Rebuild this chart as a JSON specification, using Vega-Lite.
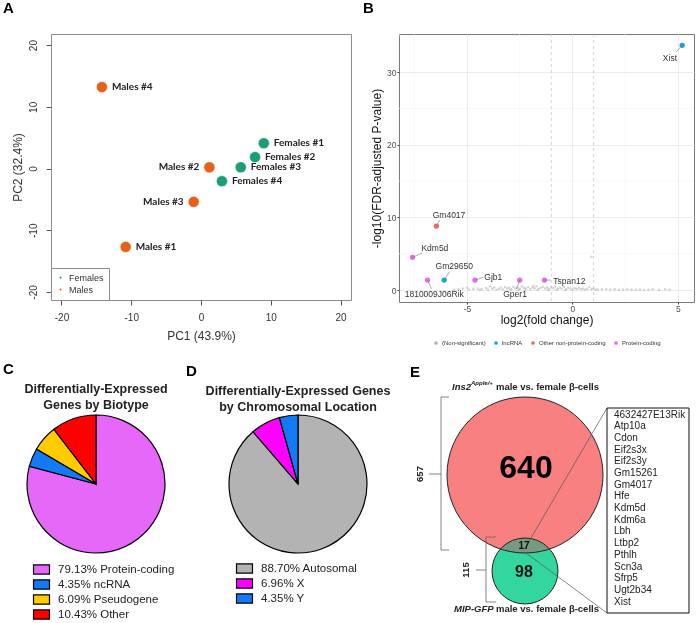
{
  "$schema": "https://vega.github.io/schema/vega-lite/v6.json",
  "padding": {"left": 2, "top": 0, "right": 0, "bottom": 0},
  "background": "white",
  "config": {
    "view": {"stroke": null},
    "font": "Liberation Sans",
    "title": {"font": "Liberation Sans", "fontSize": 15, "fontWeight": "bold", "anchor": "start", "frame": "group", "baseline": "alphabetic", "color": "#000"},
    "axis": {"labelFont": "Liberation Sans", "titleFont": "Liberation Sans"},
    "legend": {"labelFont": "Liberation Sans"}
  },
  "resolve": {"scale": {"color": "independent", "size": "independent"}, "legend": {"color": "independent", "size": "independent"}},
  "spacing": 15,
  "vconcat": [
    {
      "resolve": {"scale": {"color": "independent", "size": "independent"}, "legend": {"color": "independent", "size": "independent"}},
      "hconcat": [
        {
          "width": 300,
          "height": 266,
          "title": {"text": "A", "dx": -48, "offset": 18},
          "view": {"stroke": "#8c8c8c"},
          "data": {"values": [
            {"name": "Males #4", "group": "Males", "pc1": -14.2, "pc2": 13.2},
            {"name": "Males #2", "group": "Males", "pc1": 1.2, "pc2": 0.2},
            {"name": "Males #3", "group": "Males", "pc1": -1.05, "pc2": -5.4},
            {"name": "Males #1", "group": "Males", "pc1": -10.8, "pc2": -12.7},
            {"name": "Females #1", "group": "Females", "pc1": 9.0, "pc2": 4.1},
            {"name": "Females #2", "group": "Females", "pc1": 7.75, "pc2": 1.85},
            {"name": "Females #3", "group": "Females", "pc1": 5.7, "pc2": 0.2},
            {"name": "Females #4", "group": "Females", "pc1": 3.0, "pc2": -2.05}
          ]},
          "encoding": {
            "x": {"field": "pc1", "type": "quantitative", "scale": {"domain": [-21.5, 21.5], "nice": false, "zero": false},
              "axis": {"values": [-20, -10, 0, 10, 20], "labelExpr": "'' + datum.value", "grid": false, "domain": false, "tickSize": 5, "tickColor": "#555", "labelFontSize": 10, "labelColor": "#333", "labelPadding": 7, "title": "PC1 (43.9%)", "titleFontSize": 12, "titleFontWeight": "normal", "titleColor": "#333", "titlePadding": 8}},
            "y": {"field": "pc2", "type": "quantitative", "scale": {"domain": [-21.3, 21.8], "nice": false, "zero": false},
              "axis": {"values": [-20, -10, 0, 10, 20], "labelExpr": "'' + datum.value", "grid": false, "domain": false, "tickSize": 5, "tickColor": "#555", "labelFontSize": 10, "labelColor": "#333", "labelAngle": -90, "labelAlign": "center", "labelBaseline": "bottom", "labelPadding": 8, "title": "PC2 (32.4%)", "titleFontSize": 12, "titleFontWeight": "normal", "titleColor": "#333", "titlePadding": 4}}
          },
          "layer": [
            {
              "mark": {"type": "circle", "size": 125, "opacity": 1, "stroke": "white", "strokeWidth": 0.6},
              "encoding": {
                "color": {"field": "group", "type": "nominal",
                  "scale": {"domain": ["Females", "Males"], "range": ["#1b9e77", "#e66118"]},
                  "legend": {"orient": "bottom-left", "offset": 0, "title": null, "strokeColor": "#8c8c8c", "fillColor": "white", "padding": 5, "symbolSize": 12, "symbolType": "circle", "labelFontSize": 9, "labelColor": "#333", "rowPadding": 1, "labelOffset": 4}}
              }
            },
            {
              "transform": [{"filter": "datum.name != 'Males #2' && datum.name != 'Males #3'"}],
              "mark": {"type": "text", "align": "left", "baseline": "middle", "dx": 10, "font": "Lato", "fontWeight": "bold", "fontSize": 10, "color": "#222"},
              "encoding": {"text": {"field": "name"}}
            },
            {
              "transform": [{"filter": "datum.name == 'Males #2' || datum.name == 'Males #3'"}],
              "mark": {"type": "text", "align": "right", "baseline": "middle", "dx": -10, "font": "Lato", "fontWeight": "bold", "fontSize": 10, "color": "#222"},
              "encoding": {"text": {"field": "name"}}
            }
          ]
        },
        {
          "width": 295,
          "height": 268,
          "title": {"text": "B", "dx": -36, "offset": 18},
          "view": {"stroke": "#7a7a7a"},
          "layer": [
            {
              "data": {"values": [{"x": -7.5}, {"x": -2.5}, {"x": 2.5}]},
              "mark": {"type": "rule", "color": "#f3f3f3", "strokeWidth": 0.6},
              "encoding": {"x": {"field": "x", "type": "quantitative", "scale": {"domain": [-8.22, 5.76], "nice": false, "zero": false}}}
            },
            {
              "data": {"values": [{"y": 5}, {"y": 15}, {"y": 25}, {"y": 35}]},
              "mark": {"type": "rule", "color": "#f3f3f3", "strokeWidth": 0.6},
              "encoding": {"y": {"field": "y", "type": "quantitative", "scale": {"domain": [-1.65, 35.26], "nice": false, "zero": false}}}
            },
            {
              "data": {"values": [{"x": -1}, {"x": 1}]},
              "mark": {"type": "rule", "color": "#c4c4c4", "strokeDash": [3, 3], "strokeWidth": 0.7},
              "encoding": {"x": {"field": "x", "type": "quantitative", "scale": {"domain": [-8.22, 5.76], "nice": false, "zero": false}}}
            },
            {
              "encoding": {
                "x": {"field": "x", "type": "quantitative", "title": "log2(fold change)", "scale": {"domain": [-8.22, 5.76], "nice": false, "zero": false},
                  "axis": {"values": [-5, 0, 5], "labelExpr": "'' + datum.value", "grid": true, "gridColor": "#ebebeb", "domain": false, "tickSize": 2, "tickColor": "#333", "labelFontSize": 8.5, "labelColor": "#4d4d4d", "labelPadding": 0, "titleFontSize": 12, "titleFontWeight": "normal", "titleColor": "#111", "titlePadding": 2}},
                "y": {"field": "y", "type": "quantitative", "title": "-log10(FDR-adjusted P-value)", "scale": {"domain": [-1.65, 35.26], "nice": false, "zero": false},
                  "axis": {"values": [0, 10, 20, 30], "grid": true, "gridColor": "#ebebeb", "domain": false, "tickSize": 2, "tickColor": "#333", "labelFontSize": 8.5, "labelColor": "#4d4d4d", "labelPadding": 1, "titleFontSize": 12, "titleFontWeight": "normal", "titleColor": "#111", "titlePadding": 3}}
              },
              "layer": [
                {
                  "data": {"values": [
                    {"x": -5.6, "y": 0.05, "type": "(Non-significant)"}, {"x": -5.4, "y": 0.12, "type": "(Non-significant)"}, {"x": -5.2, "y": 0.2, "type": "(Non-significant)"}, {"x": -5.0, "y": 0.3, "type": "(Non-significant)"},
                    {"x": -4.9, "y": 0.08, "type": "(Non-significant)"}, {"x": -4.7, "y": 0.15, "type": "(Non-significant)"}, {"x": -4.5, "y": 0.22, "type": "(Non-significant)"}, {"x": -4.4, "y": 0.02, "type": "(Non-significant)"},
                    {"x": -4.3, "y": 0.1, "type": "(Non-significant)"}, {"x": -4.1, "y": 0.28, "type": "(Non-significant)"}, {"x": -4.0, "y": 0.05, "type": "(Non-significant)"}, {"x": -3.9, "y": 0.5, "type": "(Non-significant)"},
                    {"x": -3.8, "y": 0.18, "type": "(Non-significant)"}, {"x": -3.7, "y": 0.35, "type": "(Non-significant)"}, {"x": -3.6, "y": 0.02, "type": "(Non-significant)"}, {"x": -3.5, "y": 0.15, "type": "(Non-significant)"},
                    {"x": -3.4, "y": 0.3, "type": "(Non-significant)"}, {"x": -3.3, "y": 0.06, "type": "(Non-significant)"}, {"x": -3.2, "y": 0.4, "type": "(Non-significant)"}, {"x": -3.1, "y": 0.2, "type": "(Non-significant)"},
                    {"x": -3.0, "y": 0.3, "type": "(Non-significant)"}, {"x": -2.95, "y": 0.02, "type": "(Non-significant)"}, {"x": -2.9, "y": 0.1, "type": "(Non-significant)"}, {"x": -2.8, "y": 0.45, "type": "(Non-significant)"},
                    {"x": -2.7, "y": 0.25, "type": "(Non-significant)"}, {"x": -2.6, "y": 0.35, "type": "(Non-significant)"}, {"x": -2.55, "y": 0.05, "type": "(Non-significant)"}, {"x": -2.5, "y": 0.15, "type": "(Non-significant)"},
                    {"x": -2.4, "y": 0.5, "type": "(Non-significant)"}, {"x": -2.3, "y": 0.3, "type": "(Non-significant)"}, {"x": -2.25, "y": 0.02, "type": "(Non-significant)"}, {"x": -2.2, "y": 0.2, "type": "(Non-significant)"},
                    {"x": -2.1, "y": 0.4, "type": "(Non-significant)"}, {"x": -2.0, "y": 0.1, "type": "(Non-significant)"}, {"x": -1.9, "y": 0.35, "type": "(Non-significant)"}, {"x": -1.85, "y": 0.6, "type": "(Non-significant)"},
                    {"x": -1.8, "y": 0.25, "type": "(Non-significant)"}, {"x": -1.7, "y": 0.5, "type": "(Non-significant)"}, {"x": -1.65, "y": 0.03, "type": "(Non-significant)"}, {"x": -1.6, "y": 0.15, "type": "(Non-significant)"},
                    {"x": -1.5, "y": 0.3, "type": "(Non-significant)"}, {"x": -1.4, "y": 0.45, "type": "(Non-significant)"}, {"x": -1.3, "y": 0.2, "type": "(Non-significant)"}, {"x": -1.2, "y": 0.35, "type": "(Non-significant)"},
                    {"x": -1.15, "y": 0.03, "type": "(Non-significant)"}, {"x": -1.1, "y": 0.1, "type": "(Non-significant)"}, {"x": -1.0, "y": 0.4, "type": "(Non-significant)"}, {"x": -0.9, "y": 0.25, "type": "(Non-significant)"},
                    {"x": -0.8, "y": 0.5, "type": "(Non-significant)"}, {"x": -0.75, "y": 0.02, "type": "(Non-significant)"}, {"x": -0.7, "y": 0.15, "type": "(Non-significant)"}, {"x": -0.6, "y": 0.3, "type": "(Non-significant)"},
                    {"x": -0.5, "y": 0.2, "type": "(Non-significant)"}, {"x": -0.4, "y": 0.45, "type": "(Non-significant)"}, {"x": -0.35, "y": 0.02, "type": "(Non-significant)"}, {"x": -0.3, "y": 0.1, "type": "(Non-significant)"},
                    {"x": -0.2, "y": 0.3, "type": "(Non-significant)"}, {"x": -0.1, "y": 0.2, "type": "(Non-significant)"}, {"x": 0.0, "y": 0.05, "type": "(Non-significant)"}, {"x": 0.1, "y": 0.25, "type": "(Non-significant)"},
                    {"x": 0.2, "y": 0.15, "type": "(Non-significant)"}, {"x": 0.3, "y": 0.3, "type": "(Non-significant)"}, {"x": 0.4, "y": 0.1, "type": "(Non-significant)"}, {"x": 0.5, "y": 0.2, "type": "(Non-significant)"},
                    {"x": 0.6, "y": 0.05, "type": "(Non-significant)"}, {"x": 0.7, "y": 0.15, "type": "(Non-significant)"}, {"x": 0.8, "y": 0.4, "type": "(Non-significant)"}, {"x": 0.9, "y": 0.1, "type": "(Non-significant)"},
                    {"x": 1.0, "y": 0.2, "type": "(Non-significant)"}, {"x": 1.1, "y": 0.03, "type": "(Non-significant)"}, {"x": 1.2, "y": 0.08, "type": "(Non-significant)"}, {"x": 1.4, "y": 0.1, "type": "(Non-significant)"},
                    {"x": 1.6, "y": 0.15, "type": "(Non-significant)"}, {"x": 1.8, "y": 0.05, "type": "(Non-significant)"}, {"x": 2.0, "y": 0.1, "type": "(Non-significant)"}, {"x": 2.2, "y": 0.03, "type": "(Non-significant)"},
                    {"x": 2.4, "y": 0.06, "type": "(Non-significant)"}, {"x": 2.6, "y": 0.1, "type": "(Non-significant)"}, {"x": 2.8, "y": 0.03, "type": "(Non-significant)"}, {"x": 3.0, "y": 0.05, "type": "(Non-significant)"},
                    {"x": 3.2, "y": 0.08, "type": "(Non-significant)"}, {"x": 3.4, "y": 0.02, "type": "(Non-significant)"}, {"x": 3.6, "y": 0.05, "type": "(Non-significant)"}, {"x": 3.8, "y": 0.1, "type": "(Non-significant)"},
                    {"x": 4.1, "y": 0.05, "type": "(Non-significant)"}, {"x": 4.4, "y": 0.12, "type": "(Non-significant)"}, {"x": 4.6, "y": 0.05, "type": "(Non-significant)"}, {"x": 0.9, "y": 4.6, "type": "(Non-significant)"}
                  ]},
                  "mark": {"type": "circle", "size": 6, "opacity": 0.6},
                  "encoding": {
                    "color": {"field": "type", "type": "nominal",
                      "scale": {"domain": ["(Non-significant)", "lncRNA", "Other non-protein-coding", "Protein-coding"], "range": ["#b5b5b5", "#1ea1e0", "#ee6a6a", "#e26ee8"]},
                      "legend": {"orient": "none", "legendX": 34, "legendY": 306, "direction": "horizontal", "title": null, "labelFontSize": 6, "labelColor": "#333", "symbolSize": 14, "symbolType": "circle", "symbolOpacity": 1, "columnPadding": 7, "labelOffset": 3}}
                  }
                },
                {
                  "data": {"values": [
                    {"gene": "Xist", "type": "lncRNA", "x": 5.2, "y": 33.7},
                    {"gene": "Gm4017", "type": "Other non-protein-coding", "x": -6.45, "y": 8.8},
                    {"gene": "Kdm5d", "type": "Protein-coding", "x": -7.58, "y": 4.5},
                    {"gene": "Gm29650", "type": "lncRNA", "x": -6.08, "y": 1.37},
                    {"gene": "1810009J06Rik", "type": "Protein-coding", "x": -6.87, "y": 1.37},
                    {"gene": "Gjb1", "type": "Protein-coding", "x": -4.62, "y": 1.37},
                    {"gene": "Gper1", "type": "Protein-coding", "x": -2.5, "y": 1.37},
                    {"gene": "Tspan12", "type": "Protein-coding", "x": -1.33, "y": 1.37}
                  ]},
                  "mark": {"type": "circle", "size": 28, "opacity": 1},
                  "encoding": {
                    "color": {"field": "type", "type": "nominal",
                      "scale": {"domain": ["(Non-significant)", "lncRNA", "Other non-protein-coding", "Protein-coding"], "range": ["#b5b5b5", "#1ea1e0", "#ee6a6a", "#e26ee8"]}}
                  }
                },
                {
                  "data": {"values": [
                    {"x": 5.2, "y": 33.7, "x2": 4.92, "y2": 32.8},
                    {"x": -6.45, "y": 8.8, "x2": -6.3, "y2": 9.6},
                    {"x": -7.58, "y": 4.5, "x2": -7.12, "y2": 5.1},
                    {"x": -6.08, "y": 1.37, "x2": -5.83, "y2": 2.5},
                    {"x": -6.87, "y": 1.37, "x2": -6.68, "y2": 0.15},
                    {"x": -4.62, "y": 1.37, "x2": -4.23, "y2": 1.75},
                    {"x": -2.5, "y": 1.37, "x2": -2.65, "y2": 0.15},
                    {"x": -1.33, "y": 1.37, "x2": -1.02, "y2": 1.37}
                  ]},
                  "mark": {"type": "rule", "color": "#777", "strokeWidth": 0.6},
                  "encoding": {"x2": {"field": "x2"}, "y2": {"field": "y2"}}
                },
                {
                  "data": {"values": [
                    {"gene": "Xist", "x": 4.62, "y": 32.0},
                    {"gene": "Gm4017", "x": -5.85, "y": 10.4},
                    {"gene": "Kdm5d", "x": -6.52, "y": 5.8},
                    {"gene": "Gm29650", "x": -5.6, "y": 3.3},
                    {"gene": "1810009J06Rik", "x": -6.55, "y": -0.55},
                    {"gene": "Gjb1", "x": -3.75, "y": 1.75},
                    {"gene": "Gper1", "x": -2.72, "y": -0.55},
                    {"gene": "Tspan12", "x": -0.15, "y": 1.3}
                  ]},
                  "mark": {"type": "text", "fontSize": 8.5, "color": "#333", "align": "center", "baseline": "middle"},
                  "encoding": {"text": {"field": "gene"}}
                }
              ]
            }
          ]
        }
      ],
      "spacing": 48,
      "bounds": "flush"
    },
    {
      "resolve": {"scale": {"color": "independent", "size": "independent"}, "legend": {"color": "independent", "size": "independent"}},
      "hconcat": [
        {
          "width": 90,
          "height": 138,
          "title": {"text": "C", "dx": -48, "offset": 6},
          "layer": [
            {
              "data": {"values": [
                {"cat": "79.13%  Protein-coding", "pct": 79.13, "o": 1},
                {"cat": "4.35%   ncRNA", "pct": 4.35, "o": 2},
                {"cat": "6.09%   Pseudogene", "pct": 6.09, "o": 3},
                {"cat": "10.43%  Other", "pct": 10.43, "o": 4}
              ]},
              "mark": {"type": "arc", "outerRadius": 69, "stroke": "#000", "strokeWidth": 1.2},
              "encoding": {
                "theta": {"field": "pct", "type": "quantitative", "stack": true},
                "order": {"field": "o", "type": "quantitative"},
                "color": {"field": "cat", "type": "nominal",
                  "scale": {"domain": ["79.13%  Protein-coding", "4.35%   ncRNA", "6.09%   Pseudogene", "10.43%  Other"], "range": ["#e668f8", "#1479f5", "#ffcc00", "#ff0000"]},
                  "legend": {"orient": "none", "legendX": -16, "legendY": 148, "title": null, "symbolType": "M-1.4,-0.8H1.4V0.8H-1.4Z", "symbolSize": 130, "symbolStrokeColor": "#000", "symbolStrokeWidth": 1.2, "symbolOpacity": 1, "labelFontSize": 11.5, "labelColor": "#222", "rowPadding": 0, "labelOffset": 10}}
              }
            },
            {
              "data": {"values": [{"t": "Differentially-Expressed\nGenes by Biotype"}]},
              "mark": {"type": "text", "lineBreak": "\n", "fontSize": 12.5, "fontWeight": "bold", "lineHeight": 16, "baseline": "middle", "dy": -95, "color": "#222"},
              "encoding": {"text": {"field": "t"}}
            }
          ]
        },
        {
          "width": 274,
          "height": 138,
          "title": {"text": "D", "dx": 25, "offset": 6},
          "layer": [
            {
              "data": {"values": [
                {"cat": "88.70%  Autosomal", "pct": 88.70, "o": 1},
                {"cat": "6.96%   X", "pct": 6.96, "o": 2},
                {"cat": "4.35%   Y", "pct": 4.35, "o": 3}
              ]},
              "mark": {"type": "arc", "outerRadius": 69, "stroke": "#000", "strokeWidth": 1.2},
              "encoding": {
                "theta": {"field": "pct", "type": "quantitative", "stack": true},
                "order": {"field": "o", "type": "quantitative"},
                "color": {"field": "cat", "type": "nominal",
                  "scale": {"domain": ["88.70%  Autosomal", "6.96%   X", "4.35%   Y"], "range": ["#b3b3b3", "#ff00ff", "#1479f5"]},
                  "legend": {"orient": "none", "legendX": 77, "legendY": 147, "title": null, "symbolType": "M-1.4,-0.8H1.4V0.8H-1.4Z", "symbolSize": 130, "symbolStrokeColor": "#000", "symbolStrokeWidth": 1.2, "symbolOpacity": 1, "labelFontSize": 11.5, "labelColor": "#222", "rowPadding": 0, "labelOffset": 10}}
              }
            },
            {
              "data": {"values": [{"t": "Differentially-Expressed Genes\nby Chromosomal Location"}]},
              "mark": {"type": "text", "lineBreak": "\n", "fontSize": 12.5, "fontWeight": "bold", "lineHeight": 16, "baseline": "middle", "dy": -93, "color": "#222"},
              "encoding": {"text": {"field": "t"}}
            }
          ]
        },
        {
          "width": 242,
          "height": 200,
          "title": {"text": "E", "dx": -45, "offset": 0},
          "encoding": {
            "x": {"field": "x", "type": "quantitative", "scale": {"domain": [0, 242], "nice": false, "zero": false}, "axis": null},
            "y": {"field": "y", "type": "quantitative", "scale": {"domain": [0, 200], "nice": false, "zero": false}, "axis": null}
          },
          "layer": [
            {
              "data": {"values": [{"set": "MIP-GFP", "x": 70, "y": 44}]},
              "mark": {"type": "circle", "size": 4356, "color": "#33d69f", "opacity": 1}
            },
            {
              "data": {"values": [{"set": "Ins2", "x": 70, "y": 140}]},
              "mark": {"type": "circle", "size": 24336, "color": "#f98080", "opacity": 1}
            },
            {
              "data": {"values": [{"set": "MIP-GFP", "x": 70, "y": 44}]},
              "mark": {"type": "circle", "size": 4356, "color": "#78ffff", "opacity": 1, "blend": "darken"}
            },
            {
              "data": {"values": [{"set": "MIP-GFP", "x": 70, "y": 44}]},
              "mark": {"type": "circle", "size": 4356, "color": "#009a00", "opacity": 1, "blend": "lighten"}
            },
            {
              "data": {"values": [{"set": "Ins2", "x": 70, "y": 140}]},
              "mark": {"type": "point", "shape": "circle", "size": 24336, "filled": false, "stroke": "#222", "strokeWidth": 1, "opacity": 1}
            },
            {
              "data": {"values": [{"set": "MIP-GFP", "x": 70, "y": 44}]},
              "mark": {"type": "point", "shape": "circle", "size": 4356, "filled": false, "stroke": "#222", "strokeWidth": 1, "opacity": 1}
            },
            {
              "data": {"values": [
                {"x": -14, "y": 218, "x2": -14, "y2": 65},
                {"x": -14, "y": 218, "x2": -6, "y2": 218},
                {"x": -14, "y": 65, "x2": -6, "y2": 65},
                {"x": -26, "y": 141, "x2": -14, "y2": 141},
                {"x": 31, "y": 78, "x2": 31, "y2": 13},
                {"x": 31, "y": 78, "x2": 41, "y2": 78},
                {"x": 31, "y": 13, "x2": 41, "y2": 13},
                {"x": 21, "y": 45, "x2": 31, "y2": 45}
              ]},
              "mark": {"type": "rule", "color": "#666", "strokeWidth": 0.8},
              "encoding": {"x2": {"field": "x2"}, "y2": {"field": "y2"}}
            },
            {
              "data": {"values": [
                {"x": 69, "y": 65, "x2": 152, "y2": 207},
                {"x": 71, "y": 62, "x2": 152, "y2": 2}
              ]},
              "mark": {"type": "rule", "color": "#555", "strokeWidth": 0.7},
              "encoding": {"x2": {"field": "x2"}, "y2": {"field": "y2"}}
            },
            {
              "data": {"values": [{"x": 152, "y": 207, "x2": 234, "y2": 2}]},
              "mark": {"type": "rect", "fill": null, "fillOpacity": 0, "stroke": "#111", "strokeWidth": 1},
              "encoding": {"x2": {"field": "x2"}, "y2": {"field": "y2"}}
            },
            {
              "data": {"values": [{"x": 159, "y": 205.5, "t": "4632427E13Rik\nAtp10a\nCdon\nEif2s3x\nEif2s3y\nGm15261\nGm4017\nHfe\nKdm5d\nKdm6a\nLbh\nLtbp2\nPthlh\nScn3a\nSfrp5\nUgt2b34\nXist"}]},
              "mark": {"type": "text", "lineBreak": "\n", "lineHeight": 11.7, "fontSize": 10, "align": "left", "baseline": "top", "color": "#222"},
              "encoding": {"text": {"field": "t"}}
            },
            {
              "data": {"values": [{"x": 71, "y": 147, "t": "640"}]},
              "mark": {"type": "text", "fontSize": 32, "fontWeight": "bold", "align": "center", "baseline": "middle", "color": "#000"},
              "encoding": {"text": {"field": "t"}}
            },
            {
              "data": {"values": [{"x": 69, "y": 69, "t": "17"}]},
              "mark": {"type": "text", "fontSize": 10, "fontWeight": "bold", "align": "center", "baseline": "middle", "color": "#111"},
              "encoding": {"text": {"field": "t"}}
            },
            {
              "data": {"values": [{"x": 69, "y": 43, "t": "98"}]},
              "mark": {"type": "text", "fontSize": 16, "fontWeight": "bold", "align": "center", "baseline": "middle", "color": "#111"},
              "encoding": {"text": {"field": "t"}}
            },
            {
              "data": {"values": [{"x": -35, "y": 141, "t": "657"}, {"x": 11, "y": 45, "t": "115"}]},
              "mark": {"type": "text", "fontSize": 9.5, "fontWeight": "bold", "angle": 270, "align": "center", "baseline": "middle", "color": "#222"},
              "encoding": {"text": {"field": "t"}}
            },
            {
              "data": {"values": [{"x": -3, "y": 225, "t": "Ins2"}, {"x": -1, "y": 3, "t": "MIP-GFP"}]},
              "mark": {"type": "text", "fontSize": 9.5, "fontWeight": "bold", "fontStyle": "italic", "align": "left", "baseline": "alphabetic", "color": "#222"},
              "encoding": {"text": {"field": "t"}}
            },
            {
              "data": {"values": [{"x": 16, "y": 230, "t": "Apple/+"}]},
              "mark": {"type": "text", "fontSize": 6, "fontWeight": "bold", "fontStyle": "italic", "align": "left", "baseline": "alphabetic", "color": "#222"},
              "encoding": {"text": {"field": "t"}}
            },
            {
              "data": {"values": [{"x": 41, "y": 225, "t": "male vs. female β-cells"}, {"x": 41, "y": 3, "t": "male vs. female β-cells"}]},
              "mark": {"type": "text", "fontSize": 9.5, "fontWeight": "bold", "align": "left", "baseline": "alphabetic", "color": "#222"},
              "encoding": {"text": {"field": "t"}}
            }
          ]
        }
      ],
      "spacing": 20,
      "bounds": "flush"
    }
  ]
}
